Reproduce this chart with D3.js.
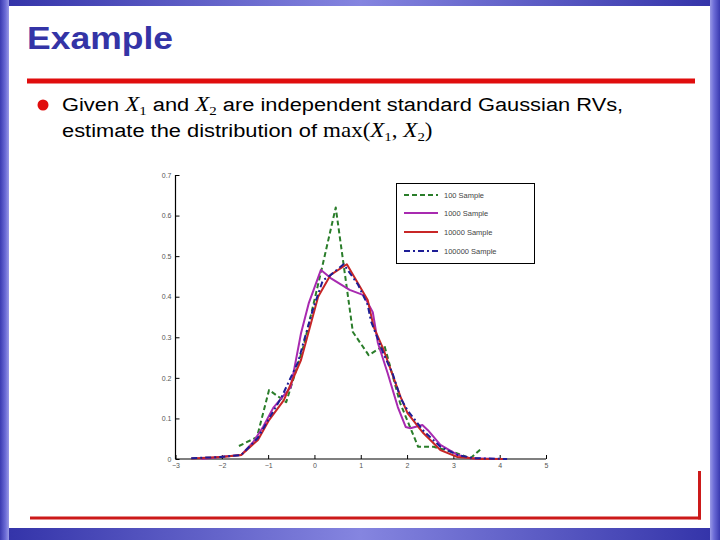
<!DOCTYPE html>
<html><head><meta charset="utf-8">
<script src="https://cdn.jsdelivr.net/npm/d3@7"></script>
<style>body{margin:0;background:#fff}svg{display:block}</style>
</head><body>
<script>
// ---- data ----
const xTicks = [-3,-2,-1,0,1,2,3,4,5];
const yTicks = [0,0.1,0.2,0.3,0.4,0.5,0.6,0.7];
const yTickLabels = ["0","0.1","0.2","0.3","0.4","0.5","0.6","0.7"];
const seriesNames = ["100 Sample","1000 Sample","10000 Sample","100000 Sample"];

const x100 = [-1.63,-1.24,-0.98,-0.61,-0.23,0.14,0.46,0.83,1.17,1.51,1.85,2.24,2.57,3.0,3.37,3.62];
const y100 = [0.032,0.054,0.17,0.14,0.28,0.46,0.62,0.313,0.256,0.28,0.138,0.03,0.03,0.017,0.002,0.027];

const x1000 = [-2.44,-2.05,-1.58,-1.32,-1.11,-0.89,-0.51,-0.29,-0.12,0.14,0.35,0.76,1.06,1.26,1.37,1.58,1.80,1.97,2.07,2.33,2.45,2.72,3.09,3.37,4.01];
const y1000 = [0.0,0.005,0.01,0.042,0.079,0.126,0.177,0.31,0.385,0.466,0.446,0.417,0.404,0.362,0.286,0.212,0.128,0.079,0.076,0.084,0.071,0.035,0.01,0.002,0.0];

const x10000 = [-2.66,-2.01,-1.58,-1.22,-0.98,-0.66,-0.29,0.08,0.35,0.70,1.15,1.28,1.49,1.71,1.86,2.01,2.35,2.72,3.09,3.58,4.16];
const y10000 = [0.001,0.005,0.01,0.047,0.096,0.145,0.244,0.40,0.454,0.48,0.392,0.325,0.27,0.20,0.153,0.113,0.064,0.022,0.005,0.0,0.0];

const x100000 = [-2.66,-2.01,-1.58,-1.22,-0.98,-0.72,-0.35,-0.23,-0.03,0.18,0.31,0.63,0.94,1.15,1.22,1.49,1.69,1.86,2.01,2.35,2.72,3.09,3.43,4.16];
const y100000 = [0.002,0.005,0.01,0.052,0.10,0.15,0.24,0.29,0.37,0.44,0.45,0.48,0.43,0.38,0.34,0.26,0.21,0.15,0.12,0.07,0.03,0.01,0.002,0.0];

const W = 720, H = 540;
const svg = d3.select("body").append("svg").attr("width", W).attr("height", H);
const defs = svg.append("defs");

// ---- slide frame ----
const gH = defs.append("linearGradient").attr("id","gH").attr("x1","0").attr("x2","1").attr("y1","0").attr("y2","0");
gH.append("stop").attr("offset","0").attr("stop-color","#3232a8");
gH.append("stop").attr("offset","0.5").attr("stop-color","#8585e0");
gH.append("stop").attr("offset","1").attr("stop-color","#3232a8");
const gV = defs.append("linearGradient").attr("id","gV").attr("x1","0").attr("x2","1").attr("y1","0").attr("y2","0");
gV.append("stop").attr("offset","0").attr("stop-color","#3a3ab0");
gV.append("stop").attr("offset","0.6").attr("stop-color","#6b6bd6");
gV.append("stop").attr("offset","1").attr("stop-color","#9a9ae6");
const gR = defs.append("linearGradient").attr("id","gR").attr("x1","0").attr("x2","1").attr("y1","0").attr("y2","0");
gR.append("stop").attr("offset","0").attr("stop-color","#9a9ae6");
gR.append("stop").attr("offset","0.4").attr("stop-color","#6b6bd6");
gR.append("stop").attr("offset","1").attr("stop-color","#3a3ab0");

svg.append("rect").attr("x",0).attr("y",0).attr("width",W).attr("height",H).attr("fill","#fff");
svg.append("rect").attr("x",0).attr("y",0).attr("width",W).attr("height",6).attr("fill","url(#gH)");
svg.append("rect").attr("x",0).attr("y",528).attr("width",W).attr("height",12).attr("fill","url(#gH)");
svg.append("rect").attr("x",0).attr("y",0).attr("width",9).attr("height",H).attr("fill","url(#gV)");
svg.append("rect").attr("x",710).attr("y",0).attr("width",10).attr("height",H).attr("fill","url(#gR)");

// title
svg.append("text").attr("x",27).attr("y",49).attr("font-family","Arial, 'Liberation Sans', sans-serif")
  .attr("font-weight","bold").attr("font-size",31).attr("fill","#3434a6")
  .attr("textLength",146).attr("lengthAdjust","spacingAndGlyphs").text("Example");
// red rule
svg.append("rect").attr("x",27).attr("y",78.5).attr("width",668).attr("height",5).attr("fill","#e00d0d");
// bullet
svg.append("circle").attr("cx",43).attr("cy",105).attr("r",5.5).attr("fill","#e00d0d");

const sans = "Arial, 'Liberation Sans', sans-serif";
const serif = "'Times New Roman', 'Liberation Serif', serif";
function richLine(y, parts){
  const t = svg.append("text").attr("x",0).attr("y",y)
    .attr("transform","translate(62,0) scale(1.15,1)")
    .attr("font-family",sans).attr("font-size",19).attr("fill","#000");
  parts.forEach(p=>{
    const ts = t.append("tspan").text(p.t);
    if(p.serif) ts.attr("font-family",serif).attr("font-size",20);
    if(p.it) ts.attr("font-style","italic");
    if(p.sub) ts.attr("font-size",13).attr("dy",4);
    if(p.up) ts.attr("dy",-4);
  });
  return t;
}
richLine(111,[{t:"Given "},{t:"X",serif:1,it:1},{t:"1",serif:1,sub:1},{t:" and ",up:1},{t:"X",serif:1,it:1},{t:"2",serif:1,sub:1},{t:" are independent standard Gaussian RVs,",up:1}]);
richLine(137,[{t:"estimate the distribution of "},{t:"max(",serif:1},{t:"X",serif:1,it:1},{t:"1",serif:1,sub:1},{t:", ",serif:1,up:1},{t:"X",serif:1,it:1},{t:"2",serif:1,sub:1},{t:")",serif:1,up:1}]);

// bottom red L
svg.append("rect").attr("x",30).attr("y",516.5).attr("width",671).attr("height",3).attr("fill","#cc1a1a");
svg.append("rect").attr("x",698).attr("y",471).attr("width",3).attr("height",48.5).attr("fill","#cc1a1a");

// ---- chart ----
const x = d3.scaleLinear().domain([-3,5]).range([175.5,546]);
const y = d3.scaleLinear().domain([0,0.7]).range([459,175]);
const g = svg.append("g");

const xAxis = d3.axisBottom(x).tickValues(xTicks).tickSize(-4).tickPadding(4).tickFormat(d3.format("d"));
const yAxis = d3.axisLeft(y).tickValues(yTicks).tickSize(-4).tickPadding(4).tickFormat((d,i)=>yTickLabels[i]);
const gx = g.append("g").attr("transform",`translate(0,${y(0)})`).call(xAxis);
const gy = g.append("g").attr("transform",`translate(${x(-3)},0)`).call(yAxis);
[gx,gy].forEach(a=>{
  a.select(".domain").attr("stroke","#000").attr("stroke-width",1.2);
  a.selectAll(".tick line").attr("stroke","#000");
  a.selectAll(".tick text").attr("font-family",sans).attr("font-size",7).attr("fill","#555");
});
gy.select(".domain").attr("d",`M0,${y(0.7)}V${y(0)}`);
gx.select(".domain").attr("d",`M${x(-3)},0H${x(5)}`);

const line = d3.line().x(d=>x(d[0])).y(d=>y(d[1]));
const series = [
  {xs:x100,   ys:y100,   color:"#2a7d2a", dash:"5,3",        w:2},
  {xs:x1000,  ys:y1000,  color:"#a82ab0", dash:null,         w:2},
  {xs:x10000, ys:y10000, color:"#c82626", dash:null,         w:2},
  {xs:x100000,ys:y100000,color:"#1e1e96", dash:"6,3,2,3",    w:2}
];
series.forEach(s=>{
  g.append("path").datum(s.xs.map((v,i)=>[v,s.ys[i]])).attr("d",line)
    .attr("fill","none").attr("stroke",s.color).attr("stroke-width",s.w)
    .attr("stroke-dasharray",s.dash).attr("stroke-linejoin","round");
});

// legend
const lg = g.append("g");
lg.append("rect").attr("x",396.5).attr("y",183.5).attr("width",138).attr("height",80)
  .attr("fill","#fff").attr("stroke","#000").attr("stroke-width",1);
series.forEach((s,i)=>{
  const yy = [195,213,232,251][i];
  lg.append("line").attr("x1",404).attr("x2",438).attr("y1",yy).attr("y2",yy)
    .attr("stroke",s.color).attr("stroke-width",s.w).attr("stroke-dasharray",s.dash);
  lg.append("text").attr("x",444).attr("y",yy+2.5).attr("font-family",sans).attr("font-size",7.5)
    .attr("fill","#444").text(seriesNames[i]);
});
</script>
</body></html>
